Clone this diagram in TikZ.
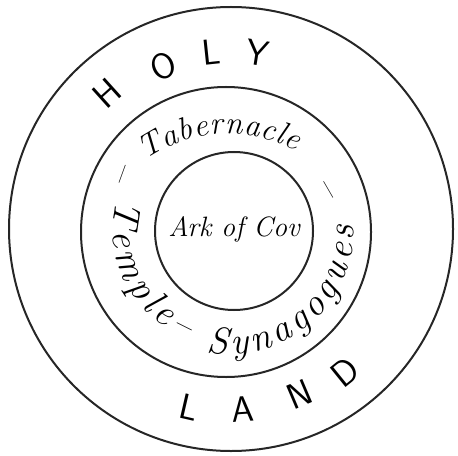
\documentclass[tikz,border=0pt]{standalone}
\usepackage{fontspec}
\usepackage{tikz}
\usetikzlibrary{calc, decorations.text}

\newcommand{\ringfont}{\itshape\fontsize{19}{19}\selectfont}
\newcommand{\tabfont}{\itshape\fontsize{16}{16}\selectfont}
\newcommand{\arkfont}{\itshape\fontsize{14}{14}\selectfont}

\begin{document}
\begin{tikzpicture}[
        x=0.5pt, y=0.5pt,
        ring/.style={draw=black!85, line width=1pt},
        bigletter/.style={font=\sffamily\fontsize{18}{18}\selectfont, inner sep=0pt},
        sepmark/.style={font=\fontsize{20}{20}\selectfont, inner sep=0pt},
        curved/.style={decorate, decoration={text along path, text={#1}, text align={fit to path}}}
    ]
    \useasboundingbox (0,0) rectangle (458,455);

    % centres of the three rings and of the lettering
    \coordinate (landc) at (231,226);
    \coordinate (tabc) at (226,223);
    \coordinate (arkc) at (234,224);
    \coordinate (txt) at (230,225);

    \draw[ring] (landc) circle[radius=222];
    \draw[ring] (tabc) circle[radius=145];
    \draw[ring] (arkc) circle[radius=79];

    \node[font=\arkfont, inner sep=0pt] (ark) at (234,226) {Ark of Cov};

    % middle ring
    \path[curved={|\tabfont|Tabernacle}] ($(228,177)+(125:144)$) arc[start angle=125, end angle=62, radius=144];
    \path[curved={|\ringfont|Temple–}] ($(txt)+(165:117)$) arc[start angle=165, end angle=248, radius=117];
    \path[curved={|\ringfont|Synagogues}] ($(txt)+(259:124)$) arc[start angle=259, end angle=362, radius=124];
    \node[sepmark, rotate=70] (sepl) at (127,279) {–};
    \node[sepmark, rotate=120] (sepr) at (333,268) {–};

    % outer ring
    \foreach \ch/\ang/\rad [count=\i] in {H/132/184, O/112/177, L/96/179, Y/81/179}
        \node[bigletter, rotate=\ang-90] (holy\i) at ($(txt)+(\ang:\rad)$) {\ch};
    \foreach \ch/\ang/\rad [count=\i] in {L/257/182, A/274/180, N/293/179, D/309/183}
        \node[bigletter, rotate=\ang+90] (land\i) at ($(txt)+(\ang:\rad)$) {\ch};
\end{tikzpicture}
\end{document}
